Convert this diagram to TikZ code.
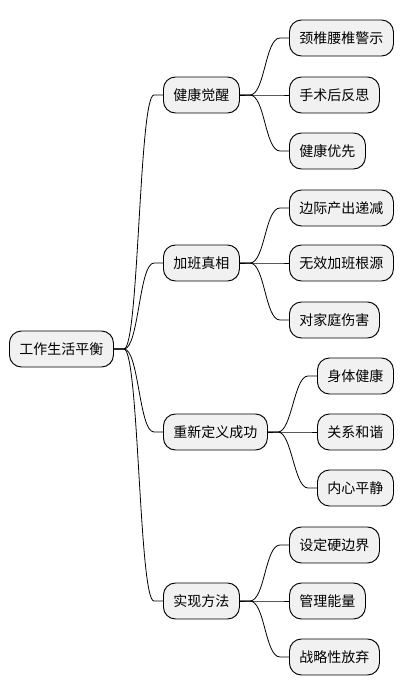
\documentclass[tikz,border=0pt]{standalone}
\usepackage{fontspec}
\newfontfamily\cjk{Noto Sans CJK SC}
\usepackage{tikz}
\usetikzlibrary{positioning, calc}
\definecolor{boxgray}{HTML}{F1F1F1}

\tikzset{
  topic/.style={draw, fill=boxgray, rounded corners=12pt*0.75, line width=0.7pt,
    minimum height=27pt, inner xsep=7.5pt, inner ysep=0pt, anchor=west,
    font=\cjk\fontsize{10.5}{12}\selectfont},
  link/.style={line width=0.6pt}
}
% branch from parent to child
\newcommand{\branch}[3]{%
  \draw[link] (#1.east) -- ++(10,0) .. controls +(#3,0) and +(-#3,0) .. ($(#2.west)+(-9,0)$) -- (#2.west);}

\begin{document}
\begin{tikzpicture}[x=0.75pt,y=-0.75pt]
      \useasboundingbox (0,0) rectangle (404,696);

      \node[topic] (root) at (9,349) {工作生活平衡};

      \node[topic] (health) at (163,95) {健康觉醒};
      \node[topic] (overtime) at (163,263) {加班真相};
      \node[topic] (success) at (163,432) {重新定义成功};
      \node[topic] (method) at (163,601) {实现方法};

      \node[topic] (h1) at (289,38) {颈椎腰椎警示};
      \node[topic] (h2) at (289,95) {手术后反思};
      \node[topic] (h3) at (289,151) {健康优先};

      \node[topic] (o1) at (289,208) {边际产出递减};
      \node[topic] (o2) at (289,263) {无效加班根源};
      \node[topic] (o3) at (289,320) {对家庭伤害};

      \node[topic] (s1) at (317,376) {身体健康};
      \node[topic] (s2) at (317,432) {关系和谐};
      \node[topic] (s3) at (317,488) {内心平静};

      \node[topic] (m1) at (289,545) {设定硬边界};
      \node[topic] (m2) at (289,601) {管理能量};
      \node[topic] (m3) at (289,657) {战略性放弃};

      \branch{root}{health}{15}
      \branch{root}{overtime}{15}
      \branch{root}{success}{15}
      \branch{root}{method}{15}

      \branch{health}{h1}{15}
      \branch{health}{h2}{15}
      \branch{health}{h3}{15}
      \branch{overtime}{o1}{15}
      \branch{overtime}{o2}{15}
      \branch{overtime}{o3}{15}
      \branch{success}{s1}{14}
      \branch{success}{s2}{14}
      \branch{success}{s3}{14}
      \branch{method}{m1}{15}
      \branch{method}{m2}{15}
      \branch{method}{m3}{15}
\end{tikzpicture}
\end{document}
